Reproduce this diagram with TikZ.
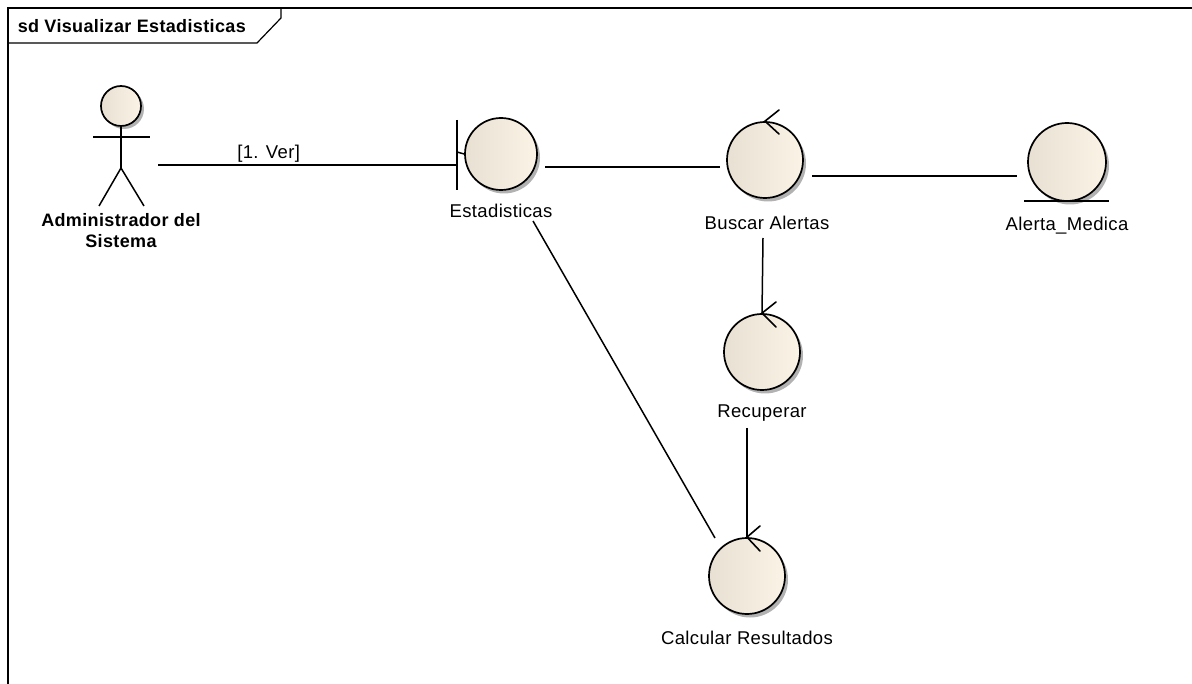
\documentclass[tikz,border=0pt]{standalone}
\usepackage{fontspec}
\setmainfont{Liberation Sans}
\newfontfamily\lblfont[LetterSpace=2]{Liberation Sans}
\begin{document}
\begin{tikzpicture}[x=1pt,y=-1pt,
  line width=1.5pt,
  robust/.style={circle, draw=black, line width=1.7pt, inner sep=0pt,
    minimum size=#1, left color=beigeL, right color=beigeR},
  shade/.style={fill=black!30, draw=none},
  lbl/.style={font=\lblfont\fontsize{18.5}{22}\selectfont, inner sep=0pt},
  blbl/.style={font=\lblfont\bfseries\fontsize{18}{21}\selectfont, inner sep=0pt, align=center},
  link/.style={line width=1.5pt},
  ctrltip/.style={line width=1.6pt, line cap=round}]
\definecolor{beigeL}{RGB}{232,224,210}
\definecolor{beigeR}{RGB}{251,243,230}
\useasboundingbox (0,0) rectangle (1192,684);

% frame and name tab
\draw[line width=1.5pt] (8,684) -- (8,8) -- (1192,8);
\draw[line width=1.2pt] (8,43) -- (257,43) -- (281,18) -- (281,8);
\node[blbl, anchor=west] (title) at (17,26) {sd Visualizar Estadisticas};

% actor
\fill[shade] (124,109) circle (20);
\node[robust=40pt] (head) at (121,106) {};
\coordinate (hip) at (121,168);
\coordinate (armL) at (93,137);
\coordinate (armR) at (150,137);
\coordinate (footL) at (99,206);
\coordinate (footR) at (144,206);
\draw (head.south) -- (hip);
\draw (armL) -- (armR);
\draw (footL) -- (hip) -- (footR);
\node[blbl] (actorlbl) at (121,231) {Administrador del\\Sistema};

% boundary: Estadisticas
\fill[shade] (504,157.5) circle (36);
\node[robust=72pt] (est) at (501,154) {};
\coordinate (barT) at (457,120);
\coordinate (barB) at (457,190);
\coordinate (barM) at (457,152);
\draw[link] (barT) -- (barB);
\draw[link] (barM) -- (est.west);
\node[lbl] (estlbl) at (501,211) {Estadisticas};

% control: Buscar Alertas
\fill[shade] (768,163.5) circle (38);
\node[robust=76pt] (busc) at (765,160) {};
\draw[ctrltip] (779,110) -- (busc.north) -- (779,134);
\node[lbl] (busclbl) at (767,223) {Buscar Alertas};

% entity: Alerta_Medica
\fill[shade] (1070,165.5) circle (39);
\node[robust=78pt] (alert) at (1067,162) {};
\coordinate (ulL) at (1024,201);
\coordinate (ulR) at (1109,201);
\draw[link] (ulL) -- (ulR);
\node[lbl] (alertlbl) at (1067,226) {Alerta\_Medica};

% control: Recuperar
\fill[shade] (765,355.5) circle (38);
\node[robust=76pt] (recu) at (762,352) {};
\draw[ctrltip] (776,302) -- (recu.north) -- (776,327);
\node[lbl] (reculbl) at (762,413) {Recuperar};

% control: Calcular Resultados
\fill[shade] (750,579.5) circle (38);
\node[robust=76pt] (calc) at (747,576) {};
\draw[ctrltip] (760,526) -- (calc.north) -- (760,551);
\node[lbl] (calclbl) at (747,638) {Calcular Resultados};

% connectors
\coordinate (a1) at (158,165);
\coordinate (a2) at (457,165);
\draw[link] (a1) -- node[lbl, above=1.5pt, pos=0.37] (verlbl) {[1. Ver]} (a2);

\coordinate (e1) at (545,167);
\coordinate (b1) at (720,167);
\draw[link] (e1) -- (b1);

\coordinate (b2) at (812,176);
\coordinate (m1) at (1017,176);
\draw[link] (b2) -- (m1);

\coordinate (b3) at (763,238);
\draw[link] (b3) -- (recu.north);

\coordinate (r1) at (747,428);
\draw[link] (r1) -- (calc.north);

\coordinate (e2) at (533,221);
\coordinate (c1) at (715,538);
\draw[link] (e2) -- (c1);
\end{tikzpicture}
\end{document}
